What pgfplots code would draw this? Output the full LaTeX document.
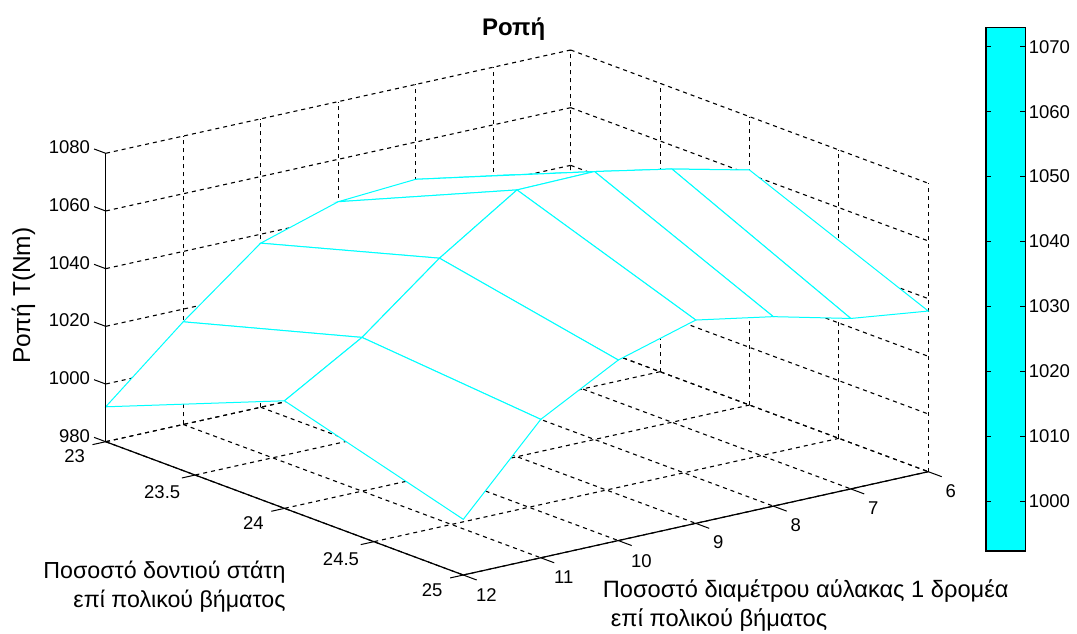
\documentclass[border=0pt]{standalone}
\usepackage{fontspec}
\setmainfont{Liberation Sans}
\usepackage{pgfplots}
\pgfplotsset{compat=1.18}
\definecolor{mcyan}{RGB}{0,255,255}
\newcommand{\tickfont}{\fontsize{18.5}{20}\selectfont}
\newcommand{\labfont}{\fontsize{23.2}{29}\selectfont}
\begin{document}
\begin{tikzpicture}[x=1pt,y=1pt]
\useasboundingbox (0,0) rectangle (1077,633);
\begin{axis}[
  at={(105.7pt,58pt)},anchor=south west,
  x={(-77.5pt,-17.22pt)},y={(178.8pt,-66.65pt)},z={(0pt,2.884pt)},
  xmin=6,xmax=12,ymin=23,ymax=25,zmin=980,zmax=1080,
  xtick={6,7,8,9,10,11,12},ytick={23,23.5,24,24.5,25},ztick={980,1000,1020,1040,1060,1080},
  xticklabels={6,7,8,9,10,11,12},
  yticklabels={23,23.5,24,24.5,25},
  zticklabels={980,1000,1020,1040,1060,1080},
  /pgf/number format/assume math mode=true,
  clip=false,
  grid=major,
  major grid style={black,line width=1.1pt,dash pattern=on 4pt off 4pt},
  axis line style={draw=none},
  tick style={draw=none},
  major tick length=12pt,
  tick align=outside,
  tick label style={font=\tickfont},
  xticklabel style={xshift=4pt,yshift=-4.5pt},
  yticklabel style={xshift=-10pt,yshift=-0.5pt},
  zticklabel style={xshift=-1pt},
  title={\bfseries Ροπή},
  title style={at={(axis description cs:0.496,1.0)},anchor=south,font=\fontsize{24}{26}\selectfont,yshift=0pt},
  xlabel={Ποσοστό διαμέτρου αύλακας 1 δρομέα\\\hspace*{8pt}επί πολικού βήματος},
  xlabel style={at={(axis description cs:0.851,-0.059)},anchor=center,align=left,font=\fontsize{23.65}{29}\selectfont},
  ylabel={Ποσοστό δοντιού στάτη\\επί πολικού βήματος},
  ylabel style={at={(axis description cs:0.0715,-0.022)},anchor=center,align=right,font=\labfont},
  zlabel={Ροπή T(Nm)},
  zlabel style={at={(axis description cs:-0.1,0.532)},anchor=center,rotate=0,font=\fontsize{24.5}{29}\selectfont},
  colormap={whiteonly}{color=(white) color=(white)},
]
\addplot3[surf,shader=faceted,faceted color=mcyan,line width=1pt,z buffer=sort,mesh/rows=3,mesh/cols=7] table {
x y z
12 23 992.1
11 23 1015.6
10 23 1036.9
9 23 1045.3
8 23 1047.1
7 23 1042.4
6 23 1037.5
12 24 1017.3
11 24 1033.3
10 24 1054.8
9 24 1072.5
8 24 1072.9
7 24 1067.8
6 24 1061.5
12 25 999.3
11 25 1028.0
10 25 1042.6
9 25 1050.5
8 25 1045.7
7 25 1039.1
6 25 1035.7
};
\draw[black,line width=1.2pt] (axis cs:12,23,980) -- (axis cs:12,23,1080);
\draw[black,line width=1.2pt] (axis cs:12,23,980) -- (axis cs:12,25,980) -- (axis cs:6,25,980);
\pgfplotsinvokeforeach{6,7,8,9,10,11,12}{\draw[black,line width=1pt] (axis cs:#1,25,980) -- (axis cs:#1,25.075,980);}
\pgfplotsinvokeforeach{23,23.5,24,24.5,25}{\draw[black,line width=1pt] (axis cs:12,#1,980) -- (axis cs:12.17,#1,980);}
\pgfplotsinvokeforeach{980,1000,1020,1040,1060,1080}{\draw[black,line width=1pt] (axis cs:12,23,#1) -- (axis cs:12,22.935,#1);}
\end{axis}
\begin{axis}[
  at={(986pt,82pt)},anchor=south west,
  scale only axis,width=39.3pt,height=523.7pt,
  xmin=0,xmax=1,ymin=992.3,ymax=1073,
  xtick=\empty,
  ytick={1000,1010,1020,1030,1040,1050,1060,1070},
  yticklabels={1000,1010,1020,1030,1040,1050,1060,1070},
  /pgf/number format/assume math mode=true,
  ytick pos=both,yticklabel pos=right,
  tick align=inside,major tick length=5pt,
  tick style={black,line width=1pt},
  axis line style={black,line width=1.1pt},
  tick label style={font=\tickfont},
  axis on top,
]
\addplot[fill=mcyan,draw=none] coordinates {(0,992.3)(1,992.3)(1,1073)(0,1073)} -- cycle;
\end{axis}
\end{tikzpicture}
\end{document}
